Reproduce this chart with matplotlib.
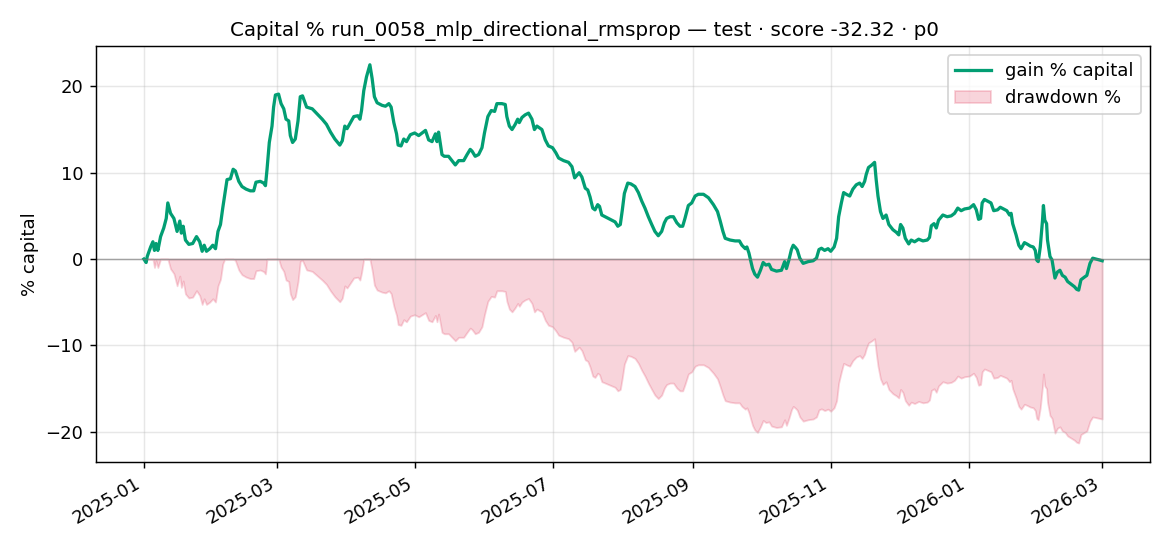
import numpy as np
import matplotlib
matplotlib.use("Agg")
import matplotlib.pyplot as plt

# test window, values (day offset from 2025-01-01, gain in % of capital)
start_date = "2025-01-01"

days = [
    0, 1, 1.5, 3, 4, 4.7, 5.4, 6.2, 7.4, 8.8, 9.9, 10.6, 11.8, 13.3, 14.7, 15.9, 16.6, 17.4,
    18.4, 19.9, 21.6, 23.3, 24.7, 25.8, 26.7, 27.7, 29.2, 30.5, 31.7, 32.8, 33.9, 34.9, 35.8,
    36.8, 38.3, 39.5, 40.5, 42, 43.4, 45.2, 47.1, 48.6, 49.6, 51.5, 53, 53.8, 54.5, 55.5, 56.7,
    57.4, 58.2, 59.6, 60.7, 61.9, 62.9, 64.1, 64.8, 65.8, 67, 68.2, 69.2, 70.2, 72, 74.5, 76.7,
    78.9, 80.8, 82.6, 84.5, 86.7, 87.8, 88.9, 89.9, 91.4, 92.9, 94.7, 95.6, 96.3, 97.3, 98.5,
    100, 101, 102, 103.2, 105.4, 106.9, 108.4, 109.4, 110.6, 111.8, 112.5, 113.8, 115, 116.2,
    117.9, 119.8, 121.6, 123.1, 124.6, 126, 127.5, 129, 129.7, 130.4, 131.2, 131.9, 132.9,
    134.8, 136.3, 137.8, 139.3, 141.5, 143, 144.4, 145.2, 146.6, 148.1, 149.6, 150.7, 152.2,
    153.7, 155.2, 156.2, 158.4, 159.9, 160.6, 161.7, 162.9, 164.3, 165.4, 166.1, 167.3, 168.7,
    170.2, 171.7, 172.8, 173.9, 176.1, 177.6, 179, 180.8, 182.3, 183.5, 185.7, 187.9, 189.4,
    190.6, 191.6, 192.6, 193.8, 195.3, 196.4, 197.4, 198.6, 199.6, 200.8, 201.6, 202.6, 204.1,
    206.3, 208.5, 209.7, 210.8, 211.7, 212.6, 214.1, 215.5, 217.3, 218.8, 220.3, 221.7, 223.2,
    224.7, 226.1, 227.6, 229.1, 230.3, 231.3, 232.8, 234.3, 235.8, 237.2, 238.4, 239.4, 240.9,
    242.4, 243.9, 245.3, 247.6, 249.8, 252, 253.8, 255, 256.2, 257.2, 259.4, 261.6, 263.5,
    264.6, 266.1, 266.8, 267.7, 268.4, 269.3, 270.3, 271.5, 272.8, 274, 275.2, 276.6, 277.7,
    279.9, 282.1, 283.5, 284.3, 285.4, 286.5, 287.3, 288.4, 289.1, 290.2, 291.7, 293.9, 296.1,
    297.6, 298.7, 299.8, 301.2, 302.7, 303.9, 305.4, 306.5, 307.4, 308.6, 309.6, 310.8, 312.3,
    313.7, 315.2, 316.7, 317.8, 318.9, 319.6, 320.6, 322.1, 323.3, 324, 324.8, 325.9, 327,
    328.4, 329.6, 331.4, 332.9, 334, 334.8, 335.8, 336.9, 338.4, 339.5, 341, 342.8, 344.7,
    346.6, 347.6, 348.4, 349.6, 350.6, 351.6, 353.5, 355.4, 357.2, 358.7, 360.1, 361.6, 363.1,
    365.3, 367.1, 368.3, 369.3, 370.2, 370.9, 371.9, 373.4, 374.8, 376, 377.7, 378.9, 380.4,
    381.8, 383, 383.7, 384.4, 385.2, 385.9, 387.1, 388.1, 389.6, 391, 392.2, 393.5, 394.4, 395,
    395.7, 396.6, 397.6, 398, 398.6, 399.4, 399.8, 400.9, 401.8, 402.4, 403.1, 404.2, 405.3,
    406.4, 407.6, 408.7, 410.2, 411.7, 412.7, 413.6, 414.6, 416.1, 417.2, 418.6, 419.8, 421.3,
    422.7, 424,
]

gain = [
    0.0, -0.4, 0.3, 1.4, 2.0, 1.0, 1.8, 1.0, 2.6, 3.6, 4.7, 6.5, 5.3, 4.7, 3.2, 4.4, 3.0, 3.8,
    2.2, 1.7, 1.8, 2.6, 2.0, 0.9, 1.6, 0.9, 1.2, 1.6, 1.2, 3.2, 4.0, 5.9, 7.5,
    9.2, 9.3, 10.4, 10.2, 9.0, 8.4, 8.1, 7.9, 7.9, 8.9, 9.0, 8.8, 8.5, 10.4, 13.5, 15.4,
    17.6, 19.0, 19.1, 18.0, 17.4, 16.2, 16.0, 14.3, 13.5, 13.9, 16.0, 18.8, 18.9, 17.6, 17.4, 16.8,
    16.2, 15.6, 14.7, 13.9, 13.2, 13.7, 15.4, 15.1, 15.8, 16.5, 16.6, 16.2, 17.2, 19.5, 21.1,
    22.5, 20.9, 18.8, 18.1, 17.8, 17.7, 18.0, 17.6, 15.8, 14.5, 13.2, 13.1, 13.9, 13.6,
    14.4, 14.6, 14.3, 14.6, 14.9, 13.8, 13.6, 14.5, 13.6, 14.7, 13.3, 12.1, 11.9,
    11.9, 11.4, 10.9, 11.4, 11.4, 12.1, 12.7, 12.5, 11.9, 12.1, 12.9, 14.6, 16.5,
    17.2, 17.1, 18.0, 18.0, 17.9, 16.5, 15.4, 15.0, 15.6, 16.2, 15.8, 16.4, 16.7,
    16.9, 16.2, 15.0, 15.4, 15.0, 13.8, 13.1, 12.9, 12.3, 11.7, 11.4, 11.2, 10.7,
    9.4, 9.7, 10.0, 9.5, 8.2, 8.0, 7.2, 5.9, 5.7, 6.3, 6.1, 5.1, 4.9,
    4.6, 4.3, 3.8, 4.0, 5.7, 7.6, 8.8, 8.7, 8.4, 7.7, 6.7, 5.9, 4.9,
    4.0, 3.2, 2.7, 3.2, 4.2, 4.7, 4.9, 4.9, 4.2, 3.8, 3.8, 4.7, 6.2,
    6.5, 7.3, 7.5, 7.5, 7.1, 6.3, 5.5, 4.4, 3.2, 2.4, 2.2, 2.1, 2.1,
    1.6, 1.2, 1.4, 0.7, -0.1, -1.1, -1.75, -2.1, -1.3, -0.4, -0.7, -0.6, -1.2,
    -1.4, -1.3, -0.3, -1.1, -0.1, 1.1, 1.6, 1.3, 1.05, 0.1, -0.5, -0.3, -0.2,
    0.1, 1.1, 1.25, 1.0, 1.2, 0.9, 1.4, 2.4, 4.9, 6.5, 7.7, 7.5, 7.3,
    8.1, 8.6, 8.8, 8.4, 9.0, 9.8, 10.6, 10.9, 11.2, 9.2, 7.3, 5.5, 4.7,
    5.1, 4.0, 3.4, 3.1, 2.8, 4.0, 3.6, 2.4, 1.75, 2.2, 2.0, 2.3, 2.1,
    2.2, 2.5, 3.85, 4.1, 3.6, 4.5, 5.1, 4.9, 5.0, 5.3, 5.9, 5.6, 5.8,
    5.9, 6.3, 5.7, 4.6, 4.7, 6.5, 6.9, 6.7, 6.5, 5.6, 5.7, 6.0, 5.8,
    5.6, 5.1, 5.3, 4.1, 3.4, 2.8, 1.6, 1.2, 1.9, 1.7, 1.5, 1.4, 1.0, -0.1,
    -0.3, 1.4, 4.5, 6.2, 4.5, 4.1, 2.2, 0.3, -0.1, -1.1, -2.2, -1.5, -1.3,
    -1.9, -2.1, -2.6, -2.9, -3.2, -3.5, -3.6, -2.4, -2.1, -1.9, -0.5, 0.1, 0.0,
    -0.1, -0.2,
]

title = "Capital % run_0058_mlp_directional_rmsprop — test · score -32.32 · p0"

dates = np.datetime64(start_date) + (np.array(days) * 24 * 60).astype("timedelta64[m]")
gain = np.array(gain)
# drawdown relative to running peak of equity
equity = 1 + gain / 100
drawdown = (equity / np.maximum.accumulate(equity) - 1) * 100

fig, ax = plt.subplots(figsize=(9, 4.2), dpi=130)
ax.plot(dates, gain, color="#029E73", lw=1.8, label="gain % capital")
ax.fill_between(dates, drawdown, 0, color="crimson", alpha=0.18, label="drawdown %")
ax.axhline(0, color="0.45", lw=0.8, alpha=0.6)
fig.suptitle(title, fontsize=11, y=0.962)
ax.set_ylabel("% capital")
ax.yaxis.set_label_coords(-0.054, 0.5)
ax.grid(alpha=0.3)
ax.legend(loc="upper right")
fig.autofmt_xdate()
fig.subplots_adjust(left=0.082, right=0.983, top=0.916, bottom=0.154)
fig.savefig("out.png", dpi=130)
